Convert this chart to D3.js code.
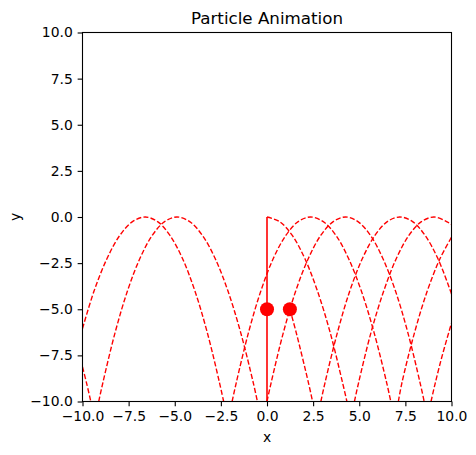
<!DOCTYPE html>
<html>
<head>
<meta charset="utf-8">
<script src="https://cdn.jsdelivr.net/npm/d3@7"></script>
<style>
  body { margin: 0; background: #fff; }
  svg { display: block; font-family: "DejaVu Sans", sans-serif; }
</style>
</head>
<body>
<svg id="chart" width="476" height="455"></svg>
<script>
// axis ranges and ticks
const xDomain = [-10, 10];
const yDomain = [-10, 10];
const tickValues = [-10, -7.5, -5, -2.5, 0, 2.5, 5, 7.5, 10];

// dashed trajectory segments as [x, y]
const trailS = [[-10, -8.13], [-9.78, -9], [-9.55, -10]];
const trailB = [[-9.12, -10], [-8.90, -9], [-8.23, -6.25], [-7.56, -4], [-6.89, -2.25], [-6.22, -1], [-5.55, -0.25], [-4.88, 0],
  [-4.19, -0.25], [-3.50, -1], [-2.81, -2.25], [-2.12, -4], [-1.43, -6.25], [-0.74, -9], [-0.52, -10]];
const trailD = [[0, -10], [0.22, -9], [0.89, -6.25], [1.56, -4], [2.24, -2.25], [2.91, -1], [3.59, -0.25], [4.26, 0],
  [4.93, -0.25], [5.61, -1], [6.28, -2.25], [6.96, -4], [7.63, -6.25], [8.30, -9], [8.52, -10]];
const trailH = [[8.89, -10], [9.12, -9], [9.5, -7.5], [10, -5.75]];
const trailA = [[-10, -6.05], [-9.37, -4], [-8.67, -2.25], [-7.98, -1], [-7.29, -0.25], [-6.6, 0],
  [-5.93, -0.25], [-5.26, -1], [-4.58, -2.25], [-3.91, -4], [-3.24, -6.25], [-2.57, -9], [-2.35, -10]];
const trailC = [[-1.89, -10], [-1.67, -9], [-1.00, -6.25], [-0.33, -4], [0.34, -2.25], [1.02, -1], [1.69, -0.25], [2.36, 0],
  [3.05, -0.25], [3.74, -1], [4.42, -2.25], [5.11, -4], [5.80, -6.25], [6.49, -9], [6.71, -10]];
const trailG = [[7.12, -10], [7.31, -9], [8.0, -6.25], [8.69, -4], [9.38, -2.25], [10, -1.1]];
const trailP = [[0, 0], [0.68, -0.25], [1.37, -1], [2.05, -2.25], [2.73, -4], [3.42, -6.25], [4.10, -9], [4.33, -10]];
const trailF = [[4.74, -10], [4.96, -9], [5.64, -6.25], [6.33, -4], [7.01, -2.25], [7.69, -1], [8.37, -0.25], [9.05, 0],
  [9.73, -0.25], [10, -0.41]];
const trailX = [[1.24, -5], [1.58, -6.25], [2.25, -9], [2.47, -10]];
const trailE = [[2.92, -10], [3.14, -9], [3.82, -6.25], [4.49, -4], [5.17, -2.25], [5.85, -1], [6.52, -0.25], [7.2, 0],
  [7.89, -0.25], [8.57, -1], [9.26, -2.25], [9.94, -4], [10, -4.17]];

const trails = [trailS, trailB, trailD, trailH, trailA, trailC, trailG, trailP, trailF, trailX, trailE];

// vertical path of the particle at x = 0, and the current particles
const verticalPath = [[0, 0], [0, -10]];
const particles = [[0, -5], [1.24, -5]];

const margin = { left: 82.5, right: 24.5, top: 32.5, bottom: 53.5 };
const W = 476, H = 455;
const $svg = d3.select('#chart');

const x = d3.scaleLinear().domain(xDomain).range([margin.left, W - margin.right]);
const y = d3.scaleLinear().domain(yDomain).range([H - margin.bottom, margin.top]);

const fmt = v => d3.format('.1f')(v).replace('-', '\u2212');

$svg.append('defs')
  .append('clipPath')
  .attr('id', 'plot-clip')
  .append('rect')
  .attr('x', x(-10))
  .attr('y', y(10))
  .attr('width', x(10) - x(-10))
  .attr('height', y(-10) - y(10));

const $plot = $svg.append('g').attr('clip-path', 'url(#plot-clip)');

const line = d3.line()
  .x(d => x(d[0]))
  .y(d => y(d[1]))
  .curve(d3.curveCatmullRom.alpha(0.5));

$plot.selectAll('path.trail')
  .data(trails)
  .join('path')
  .attr('class', 'trail')
  .attr('d', line)
  .attr('fill', 'none')
  .attr('stroke', '#ff0000')
  .attr('stroke-width', 1.39)
  .attr('stroke-dasharray', '5.1 2.2');

$plot.append('path')
  .datum(verticalPath)
  .attr('d', d3.line().x(d => x(d[0])).y(d => y(d[1])))
  .attr('fill', 'none')
  .attr('stroke', '#ff0000')
  .attr('stroke-width', 1.6);

$plot.selectAll('circle.particle')
  .data(particles)
  .join('circle')
  .attr('class', 'particle')
  .attr('cx', d => x(d[0]))
  .attr('cy', d => y(d[1]))
  .attr('r', 7)
  .attr('fill', '#ff0000');

// axes
const tickLen = 4.86;
const $xAxis = $svg.append('g')
  .attr('transform', `translate(0,${y(-10)})`)
  .call(d3.axisBottom(x).tickValues(tickValues).tickFormat(fmt).tickSize(tickLen).tickPadding(4.86));
const $yAxis = $svg.append('g')
  .attr('transform', `translate(${x(-10)},0)`)
  .call(d3.axisLeft(y).tickValues(tickValues).tickFormat(fmt).tickSize(tickLen).tickPadding(4.86));

[$xAxis, $yAxis].forEach($a => {
  $a.select('.domain').remove();
  $a.selectAll('line').attr('stroke', '#000').attr('stroke-width', 1.1);
  $a.selectAll('text')
    .attr('fill', '#000')
    .attr('font-size', 13.9)
    .attr('font-family', '"DejaVu Sans", sans-serif');
});

// spines
$svg.append('rect')
  .attr('x', x(-10))
  .attr('y', y(10))
  .attr('width', x(10) - x(-10))
  .attr('height', y(-10) - y(10))
  .attr('fill', 'none')
  .attr('stroke', '#000')
  .attr('stroke-width', 1.1);

// labels
$svg.append('text')
  .attr('x', (x(-10) + x(10)) / 2)
  .attr('y', 24)
  .attr('text-anchor', 'middle')
  .attr('font-size', 16.7)
  .text('Particle Animation');

$svg.append('text')
  .attr('x', (x(-10) + x(10)) / 2)
  .attr('y', 442)
  .attr('text-anchor', 'middle')
  .attr('font-size', 13.9)
  .text('x');

$svg.append('text')
  .attr('transform', `translate(20,${(y(-10) + y(10)) / 2}) rotate(-90)`)
  .attr('text-anchor', 'middle')
  .attr('font-size', 13.9)
  .text('y');
</script>
</body>
</html>
